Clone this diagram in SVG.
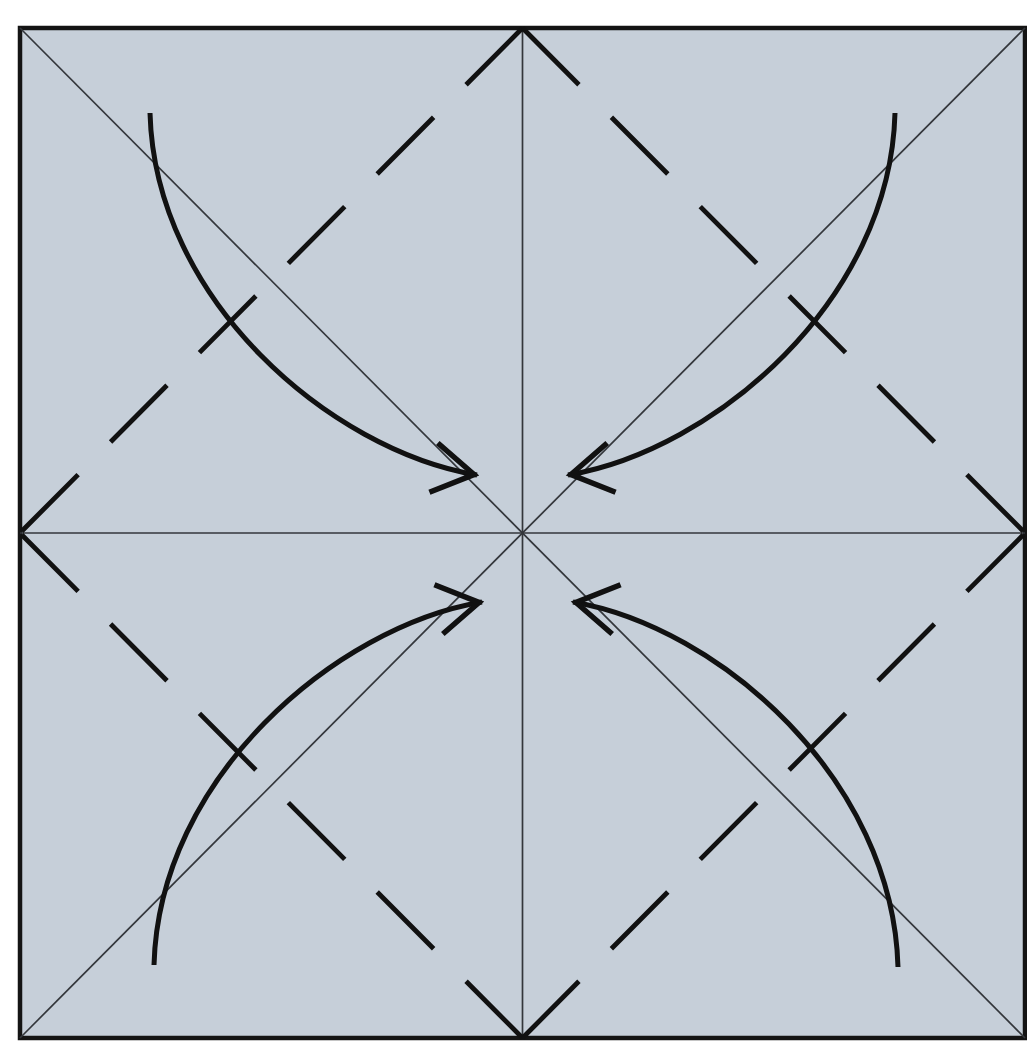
<svg xmlns="http://www.w3.org/2000/svg" width="1027" height="1044" viewBox="0 0 1027 1044">
  <style>
    .paper { fill: #c6cfd9; stroke: #141414; stroke-width: 4.5; }
    .crease { fill: none; stroke: #33363b; stroke-width: 1.7; }
    .valley { fill: none; stroke: #111; stroke-width: 4.8; stroke-dasharray: 80 46; stroke-linecap: butt; }
    .arrow { fill: none; stroke: #111; stroke-width: 5; stroke-linecap: butt; marker-end: url(#head); }
  </style>
  <defs>
    <marker id="head" markerUnits="userSpaceOnUse" orient="auto" refX="0" refY="0" markerWidth="60" markerHeight="60" style="overflow:visible">
      <path d="M-44,-25 L-3,0 L-44,25" fill="none" stroke="#111" stroke-width="5.5" stroke-linejoin="miter"/>
    </marker>
  </defs>
  <rect x="0" y="0" width="1027" height="1044" fill="#ffffff"/>
  <g id="paper">
    <rect class="paper" x="20" y="28" width="1005" height="1010"/>
  </g>
  <g id="creases">
    <line class="crease" x1="20" y1="28" x2="1025" y2="1038"/>
    <line class="crease" x1="1025" y1="28" x2="20" y2="1038"/>
    <line class="crease" x1="20" y1="533" x2="1025" y2="533"/>
    <line class="crease" x1="522.5" y1="28" x2="522.5" y2="1038"/>
  </g>
  <g id="valley-folds">
    <line class="valley" x1="522.5" y1="28" x2="20" y2="533"/>
    <line class="valley" x1="522.5" y1="28" x2="1025" y2="533"/>
    <line class="valley" x1="522.5" y1="1038" x2="20" y2="533"/>
    <line class="valley" x1="522.5" y1="1038" x2="1025" y2="533"/>
  </g>
  <g id="connectors">
    <path class="arrow" d="M150,113 C155,300 330,450 477,475"/>
    <path class="arrow" d="M895,113 C890,300 715,450 568,475"/>
    <path class="arrow" d="M154,965 C159,778 335,627 482,602"/>
    <path class="arrow" d="M898,967 C893,780 720,627 573,602"/>
  </g>
</svg>
